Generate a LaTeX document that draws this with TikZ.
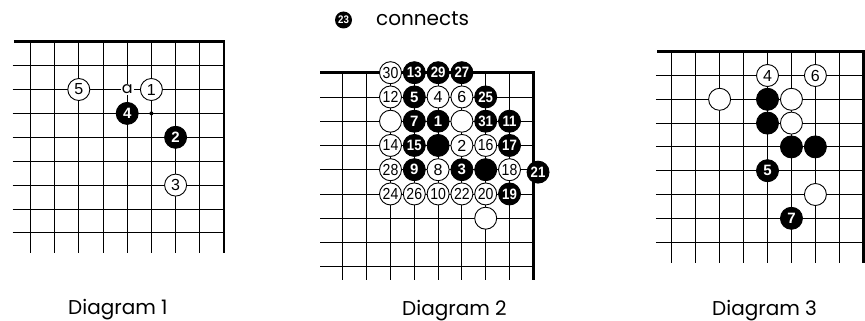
\documentclass[tikz,border=0pt]{standalone}
\usepackage{fontspec}
\usepackage{graphicx}
\setmainfont{Liberation Sans}
\newfontfamily\labfont{Poppins}
\newfontfamily\numfont{Liberation Sans}
\newcommand\nn[1]{\scalebox{0.88}[1]{#1}}
\tikzset{
  gridline/.style={line width=0.9pt},
  edgeline/.style={line width=2.6pt, line join=miter},
  wst/.style={circle, draw=black, line width=0.9pt, fill=white, minimum size=22pt, inner sep=0pt, font=\numfont\fontsize{16}{16}\selectfont},
  bst/.style={circle, draw=black, line width=0.9pt, fill=black, text=white, minimum size=22pt, inner sep=0pt, font=\numfont\bfseries\fontsize{15}{15}\selectfont},
  caption/.style={anchor=base west, inner sep=0pt, font=\labfont\fontsize{20}{20}\selectfont},
}
\begin{document}
\begin{tikzpicture}[x=1pt,y=-1pt]
\useasboundingbox (0,0) rectangle (865,321);
\fill[white] (0,0) rectangle (865,321);

% ---------------- Diagram 1 ----------------
\begin{scope}[shift={(224,41.7)}, x=-24.2pt, y=-23.9pt]
  \foreach \r in {1,...,8} \draw[gridline] (8.73,\r) -- (0,\r);
  \foreach \c in {1,...,8} \draw[gridline] (\c,0) -- (\c,8.84);
  \draw[edgeline] (8.68,0) -- (0,0) -- (0,8.84);
  \node[wst] (d1s5) at (6,2) {5};
  \node[wst] (d1s1) at (3,2) {1};
  \node[bst] (d1s4) at (4,3) {4};
  \node[bst] (d1s2) at (2,4) {2};
  \node[wst] (d1s3) at (2,6) {3};
  \node[fill=white, inner sep=1.2pt, font=\labfont\fontsize{16}{16}\selectfont] (d1a) at (4,2) {a};
  \node[circle, fill=black, inner sep=0pt, minimum size=4pt] (d1dot) at (3,3) {};
\end{scope}
\node[caption] (cap1) at (68,314.5) {Diagram 1};

% ---------------- Diagram 2 ----------------
\node[circle, fill=black, inner sep=0pt, minimum size=17pt, text=white, font=\numfont\bfseries\fontsize{11}{11}\selectfont] (d2s23) at (343.5,20) {\nn{23}};
\node[anchor=base west, inner sep=0pt, font=\labfont\fontsize{20}{20}\selectfont] (d2con) at (376,26) {connects};
\begin{scope}[shift={(533.3,72.7)}, x=-23.8pt, y=-24.25pt]
  \foreach \r in {1,...,8} \draw[gridline] (8.95,\r) -- (0,\r);
  \foreach \c in {1,...,8} \draw[gridline] (\c,0) -- (\c,8.55);
  \draw[edgeline] (8.95,0) -- (0,0) -- (0,8.55);
  % row 0
  \node[wst] (d2s30) at (6,0) {\nn{30}};
  \node[bst] (d2s13) at (5,0) {\nn{13}};
  \node[bst] (d2s29) at (4,0) {\nn{29}};
  \node[bst] (d2s27) at (3,0) {\nn{27}};
  % row 1
  \node[wst] (d2s12) at (6,1) {\nn{12}};
  \node[bst] (d2s5) at (5,1) {5};
  \node[wst] (d2s4) at (4,1) {4};
  \node[wst] (d2s6) at (3,1) {6};
  \node[bst] (d2s25) at (2,1) {\nn{25}};
  % row 2
  \node[wst] (d2wa) at (6,2) {};
  \node[bst] (d2s7) at (5,2) {7};
  \node[bst] (d2s1) at (4,2) {1};
  \node[wst] (d2wb) at (3,2) {};
  \node[bst] (d2s31) at (2,2) {\nn{31}};
  \node[bst] (d2s11) at (1,2) {\nn{11}};
  % row 3
  \node[wst] (d2s14) at (6,3) {\nn{14}};
  \node[bst] (d2s15) at (5,3) {\nn{15}};
  \node[bst] (d2ba) at (4,3) {};
  \node[wst] (d2s2) at (3,3) {2};
  \node[wst] (d2s16) at (2,3) {\nn{16}};
  \node[bst] (d2s17) at (1,3) {\nn{17}};
  % row 4
  \node[wst] (d2s28) at (6,4) {\nn{28}};
  \node[bst] (d2s9) at (5,4) {9};
  \node[wst] (d2s8) at (4,4) {8};
  \node[bst] (d2s3) at (3,4) {3};
  \node[bst] (d2bb) at (2,4) {};
  \node[wst] (d2s18) at (1,4) {\nn{18}};
  \node[bst] (d2s21) at (-0.2,4.1) {\nn{21}};
  % row 5
  \node[wst] (d2s24) at (6,5) {\nn{24}};
  \node[wst] (d2s26) at (5,5) {\nn{26}};
  \node[wst] (d2s10) at (4,5) {\nn{10}};
  \node[wst] (d2s22) at (3,5) {\nn{22}};
  \node[wst] (d2s20) at (2,5) {\nn{20}};
  \node[bst] (d2s19) at (1,5) {\nn{19}};
  % row 6
  \node[wst] (d2wc) at (2,6) {};
\end{scope}
\node[caption] (cap2) at (402,315) {Diagram 2};

% ---------------- Diagram 3 ----------------
\begin{scope}[shift={(863.3,51.7)}, x=-23.95pt, y=-23.8pt]
  \foreach \r in {1,...,8} \draw[gridline] (8.66,\r) -- (0,\r);
  \foreach \c in {1,...,8} \draw[gridline] (\c,0) -- (\c,8.87);
  \draw[edgeline] (8.6,0) -- (0,0) -- (0,8.87);
  \node[wst] (d3s4) at (4,1) {4};
  \node[wst] (d3s6) at (2,1) {6};
  \node[wst] (d3wa) at (6,2) {};
  \node[bst] (d3ba) at (4,2) {};
  \node[wst] (d3wb) at (3,2) {};
  \node[bst] (d3bb) at (4,3) {};
  \node[wst] (d3wc) at (3,3) {};
  \node[bst] (d3bc) at (3,4) {};
  \node[bst] (d3bd) at (2,4) {};
  \node[bst] (d3s5) at (4,5) {5};
  \node[wst] (d3wd) at (2,6) {};
  \node[bst] (d3s7) at (3,7) {7};
\end{scope}
\node[caption] (cap3) at (712,315) {Diagram 3};
\end{tikzpicture}
\end{document}
